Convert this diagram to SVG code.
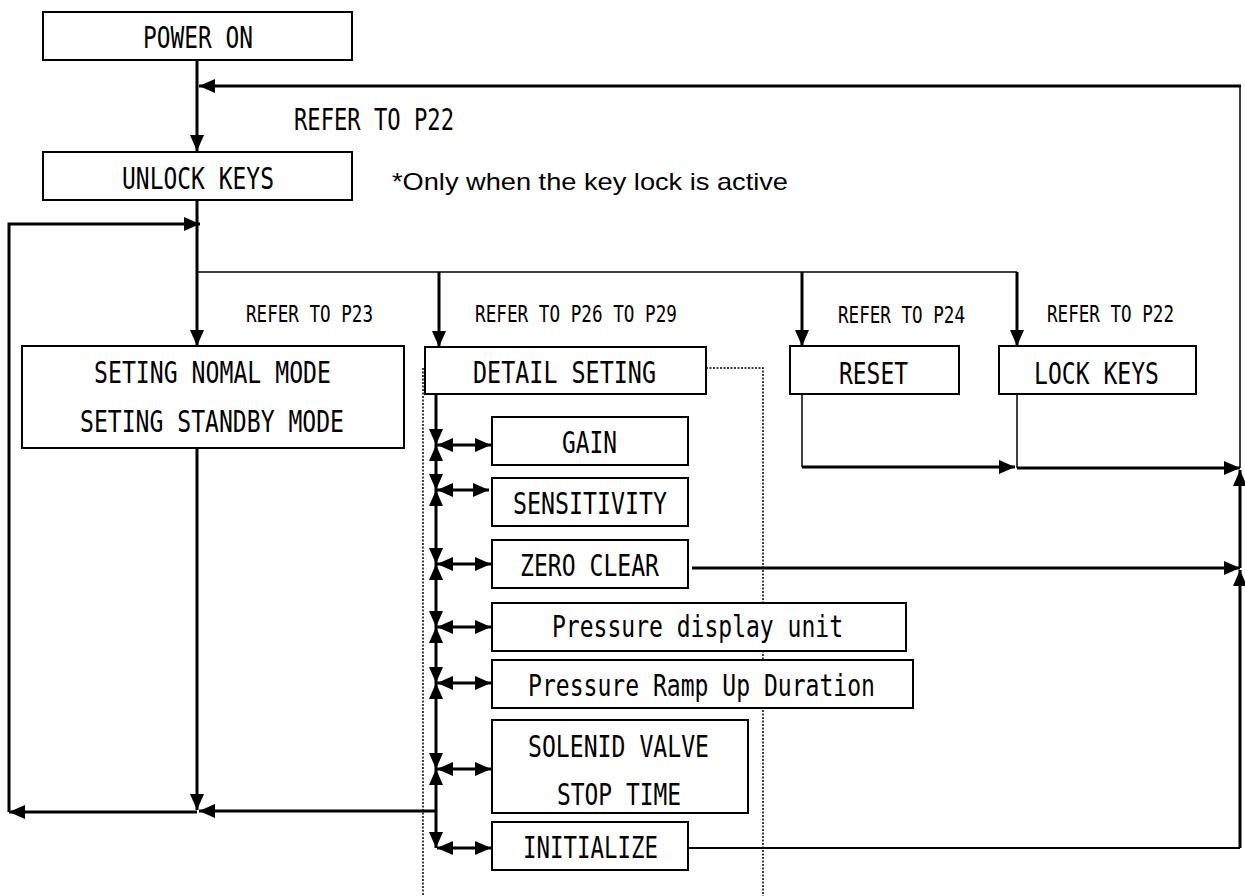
<svg xmlns="http://www.w3.org/2000/svg" width="1245" height="896" viewBox="0 0 1245 896">
<defs>
<style>
.box{fill:#fff;stroke:#000;stroke-width:2}
.t{font-family:"DejaVu Sans Mono","Liberation Mono",monospace;font-size:30px;fill:#000}
.s{font-family:"DejaVu Sans Mono","Liberation Mono",monospace;font-size:23px;fill:#000}
.p{font-family:"Liberation Sans",Arial,sans-serif;font-size:24px;fill:#000}
.k{fill:none;stroke:#000;stroke-width:3}
.n{fill:none;stroke:#000;stroke-width:1.5}
.m{fill:none;stroke:#000;stroke-width:2}
.a{marker-end:url(#ah)}
.aa{marker-start:url(#ah);marker-end:url(#ah)}
.d{fill:none;stroke:#000;stroke-width:1.5;stroke-dasharray:2 1.5}
</style>
<marker id="ah" viewBox="0 0 16 14" refX="16" refY="7" markerWidth="16" markerHeight="14" markerUnits="userSpaceOnUse" orient="auto-start-reverse"><path d="M0,0 L16,7 L0,14 z" fill="#000"/></marker>
</defs>
<rect width="1245" height="896" fill="#fff"/>

<g id="connectors">
<line class="k a" x1="197" y1="60" x2="197" y2="151"/>
<line class="k a" x1="1241" y1="86" x2="199" y2="86"/>
<line class="n" x1="1240" y1="86" x2="1240" y2="468"/>
<line class="k a" x1="197" y1="200" x2="197" y2="346"/>
<polyline class="k a" points="9,812 9,224 200,224"/>
<line class="n" x1="197" y1="272" x2="1017" y2="272"/>
<line class="k a" x1="439" y1="272" x2="439" y2="347"/>
<line class="k a" x1="802" y1="272" x2="802" y2="346"/>
<line class="k a" x1="1017" y1="272" x2="1017" y2="346"/>
<line class="n" x1="802" y1="394" x2="802" y2="467"/>
<line class="k a" x1="802" y1="467" x2="1015" y2="467"/>
<line class="n" x1="1017" y1="394" x2="1017" y2="468"/>
<line class="k a" x1="1017" y1="468" x2="1240" y2="468"/>
<line class="k a" x1="692" y1="568" x2="1240" y2="568"/>
<line class="m" x1="688" y1="848" x2="1240" y2="848"/>
<line class="k a" x1="1240" y1="848" x2="1240" y2="570"/>
<line class="k a" x1="1240" y1="568" x2="1240" y2="470"/>
<line class="k a" x1="197" y1="448" x2="197" y2="810"/>
<line class="k a" x1="436" y1="811" x2="199" y2="811"/>
<line class="k a" x1="197" y1="812" x2="9" y2="812"/>
<line class="k a" x1="436" y1="394" x2="436" y2="445"/>
<line class="k aa" x1="436" y1="445" x2="436" y2="490"/>
<line class="k aa" x1="436" y1="490" x2="436" y2="564"/>
<line class="k aa" x1="436" y1="564" x2="436" y2="627"/>
<line class="k aa" x1="436" y1="627" x2="436" y2="683"/>
<line class="k aa" x1="436" y1="683" x2="436" y2="769"/>
<line class="k aa" x1="436" y1="769" x2="436" y2="848"/>
<line class="k aa" x1="437" y1="445" x2="491" y2="445"/>
<line class="k aa" x1="437" y1="490" x2="489" y2="490"/>
<line class="k aa" x1="437" y1="564" x2="491" y2="564"/>
<line class="k aa" x1="437" y1="627" x2="491" y2="627"/>
<line class="k aa" x1="437" y1="683" x2="491" y2="683"/>
<line class="k aa" x1="437" y1="769" x2="491" y2="769"/>
<line class="k aa" x1="437" y1="848" x2="491" y2="848"/>
<polyline class="d" points="706,368 763,368 763,896"/>
<line class="d" x1="423" y1="368" x2="423" y2="896"/>
</g>

<g id="power-on"><rect class="box" x="43" y="12" width="309" height="48"/><text class="t" x="143" y="48" textLength="110" lengthAdjust="spacingAndGlyphs">POWER ON</text></g>
<g id="unlock-keys"><rect class="box" x="43" y="152" width="309" height="48"/><text class="t" x="122" y="189" textLength="152" lengthAdjust="spacingAndGlyphs">UNLOCK KEYS</text></g>
<g id="seting-mode"><rect class="box" x="22" y="346" width="382" height="102"/><text class="t" x="94" y="383" textLength="237" lengthAdjust="spacingAndGlyphs">SETING NOMAL MODE</text><text class="t" x="80" y="432" textLength="264" lengthAdjust="spacingAndGlyphs">SETING STANDBY MODE</text></g>
<g id="detail-seting"><rect class="box" x="425" y="347" width="281" height="47"/><text class="t" x="473" y="383" textLength="183" lengthAdjust="spacingAndGlyphs">DETAIL SETING</text></g>
<g id="reset"><rect class="box" x="790" y="346" width="169" height="48"/><text class="t" x="839" y="384" textLength="69" lengthAdjust="spacingAndGlyphs">RESET</text></g>
<g id="lock-keys"><rect class="box" x="999" y="346" width="197" height="48"/><text class="t" x="1034" y="384" textLength="125" lengthAdjust="spacingAndGlyphs">LOCK KEYS</text></g>
<g id="gain"><rect class="box" x="492" y="417" width="196" height="48"/><text class="t" x="562" y="453" textLength="55" lengthAdjust="spacingAndGlyphs">GAIN</text></g>
<g id="sensitivity"><rect class="box" x="492" y="478" width="196" height="48"/><text class="t" x="513" y="514" textLength="154" lengthAdjust="spacingAndGlyphs">SENSITIVITY</text></g>
<g id="zero-clear"><rect class="box" x="492" y="540" width="196" height="48"/><text class="t" x="520" y="576" textLength="139" lengthAdjust="spacingAndGlyphs">ZERO CLEAR</text></g>
<g id="pressure-unit"><rect class="box" x="492" y="603" width="414" height="48"/><text class="t" x="552" y="637" textLength="291" lengthAdjust="spacingAndGlyphs">Pressure display unit</text></g>
<g id="pressure-ramp"><rect class="box" x="492" y="660" width="421" height="48"/><text class="t" x="528" y="696" textLength="347" lengthAdjust="spacingAndGlyphs">Pressure Ramp Up Duration</text></g>
<g id="solenid"><rect class="box" x="492" y="720" width="256" height="93"/><text class="t" x="528" y="757" textLength="181" lengthAdjust="spacingAndGlyphs">SOLENID VALVE</text><text class="t" x="557" y="805" textLength="124" lengthAdjust="spacingAndGlyphs">STOP TIME</text></g>
<g id="initialize"><rect class="box" x="492" y="822" width="196" height="48"/><text class="t" x="523" y="858" textLength="135" lengthAdjust="spacingAndGlyphs">INITIALIZE</text></g>

<g id="labels">
<text class="t" x="294" y="130" textLength="160" lengthAdjust="spacingAndGlyphs">REFER TO P22</text>
<text class="p" x="392" y="190" textLength="396" lengthAdjust="spacingAndGlyphs">*Only when the key lock is active</text>
<text class="s" x="246" y="322" textLength="127" lengthAdjust="spacingAndGlyphs">REFER TO P23</text>
<text class="s" x="475" y="322" textLength="202" lengthAdjust="spacingAndGlyphs">REFER TO P26 TO P29</text>
<text class="s" x="838" y="323" textLength="127" lengthAdjust="spacingAndGlyphs">REFER TO P24</text>
<text class="s" x="1047" y="322" textLength="127" lengthAdjust="spacingAndGlyphs">REFER TO P22</text>
</g>
</svg>
